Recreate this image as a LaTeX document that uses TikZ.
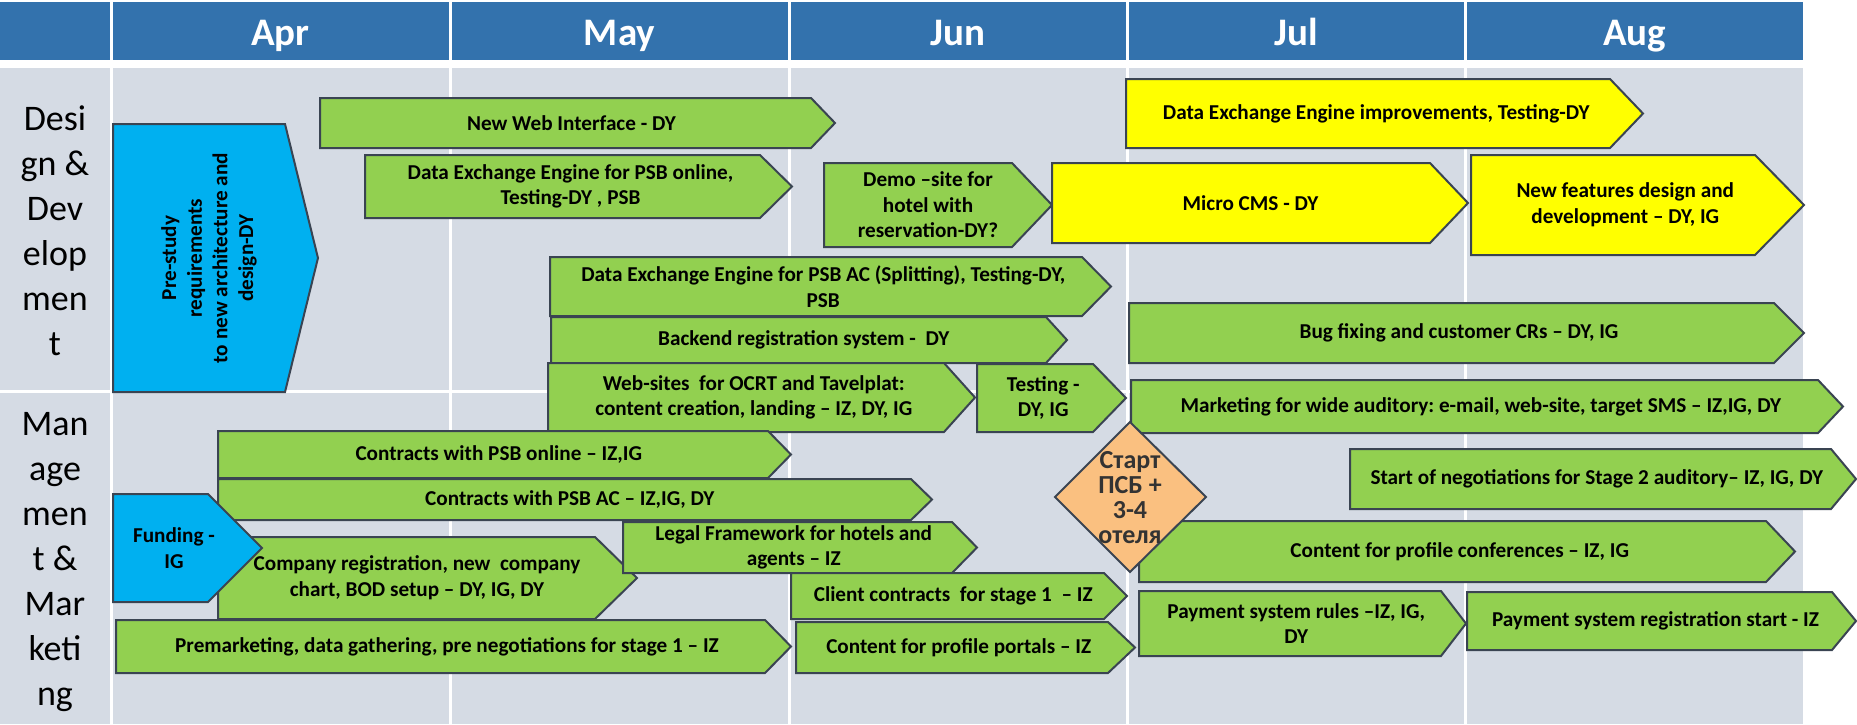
\documentclass[tikz,border=0pt]{standalone}
\usepackage{fontspec}
\setmainfont{Carlito}
\frenchspacing
\usetikzlibrary{positioning}

\definecolor{hdrblue}{HTML}{3372AD}
\definecolor{cellgray}{HTML}{D5DBE4}
\definecolor{taskgreen}{HTML}{92D050}
\definecolor{taskyellow}{HTML}{FFFF00}
\definecolor{taskcyan}{HTML}{00B0F0}
\definecolor{mileorange}{HTML}{FAC080}
\definecolor{edgeslate}{HTML}{3A4452}

\tikzset{
  chev/.style={draw=edgeslate, line width=1pt, line join=miter},
  chevtext/.style={font=\bfseries\fontsize{10.6}{12.8}\selectfont, align=center, inner sep=0pt},
  miletext/.style={font=\bfseries\fontsize{13}{12.5}\selectfont, align=center, inner sep=0pt, text=black!80},
  rowlabel/.style={font=\fontsize{18}{22.5}\selectfont, align=center, inner sep=0pt},
  month/.style={font=\bfseries\fontsize{19.5}{20}\selectfont, text=white, anchor=base},
}

% [fill]{name}{left}{top}{body right}{tip}{bottom}{text}
\newcommand{\chevbox}[8][taskgreen]{%
  \draw[chev, fill=#1] (#3,#4) -- (#5,#4) -- (#6,{(#4+#7)/2}) -- (#5,#7) -- (#3,#7) -- cycle;
  \node[chevtext] (#2) at ({(2*#3+#5+#6)/4},{(#4+#7)/2}) {#8};
}

\begin{document}
\begin{tikzpicture}[x=0.5pt, y=-0.5pt]
    \useasboundingbox (0,0) rectangle (1857,724);
    \fill[white] (0,0) rectangle (1857,724);
    \fill[hdrblue] (0,2) rectangle (109.5,60);
    \fill[cellgray] (0,68) rectangle (109.5,390);
    \fill[cellgray] (0,393) rectangle (109.5,724);
    \foreach \l/\r/\m in {112.5/448.5/Apr, 451.5/787.5/May, 790.5/1125.5/Jun,
                          1128.5/1463.5/Jul, 1466.5/1803/Aug} {
      \fill[hdrblue] (\l,2) rectangle (\r,60);
      \fill[cellgray] (\l,68) rectangle (\r,390);
      \fill[cellgray] (\l,393) rectangle (\r,724);
      \node[month] (\m) at ({(\l+\r)/2},45) {\m};
    }
    \node[rowlabel] (design) at (55,231) {Desi\\gn \&\\Dev\\elop\\men\\t};
    \node[rowlabel] (mgmt) at (55,562) {Man\\age\\men\\t \&\\Mar\\keti\\ng};

    \draw[chev, fill=taskcyan] (113,124) -- (285,124) -- (318,258) -- (285,392) -- (113,392) -- cycle;
    \node[chevtext, rotate=90] (prestudy) at (209,258)
      {Pre-study\\requirements\\to new architecture and\\design-DY};
    \chevbox{webui}{320}{98}{811}{835}{148}{New Web Interface - DY}
    \chevbox{dxonline}{365}{155}{760}{792}{218}{Data Exchange Engine for PSB online,\\Testing-DY , PSB}
    \chevbox{demosite}{824}{163}{1012}{1052}{247}{Demo –site for\\hotel with\\reservation-DY?}
    \chevbox[taskyellow]{microcms}{1052}{163}{1430}{1468}{243}{Micro CMS - DY}
    \chevbox[taskyellow]{dximprove}{1126}{79}{1610}{1643}{148}{Data Exchange Engine improvements, Testing-DY}
    \chevbox[taskyellow]{newfeat}{1471}{155}{1755}{1804}{255}{New features design and\\development – DY, IG}
    \chevbox{dxac}{550}{257}{1082}{1111}{316}{Data Exchange Engine for PSB AC (Splitting), Testing-DY,\\PSB}
    \chevbox{backend}{551}{317}{1046}{1067}{363}{Backend registration system -\ \ DY}
    \chevbox{bugfix}{1129}{303}{1774}{1804}{363}{Bug fixing and customer CRs – DY, IG}
    \chevbox{websites}{548}{363}{944}{975}{432}{Web-sites\ \ for OCRT and Tavelplat:\\content creation, landing – IZ, DY, IG}
    \chevbox{testing}{977}{364}{1093}{1126}{432}{Testing -\\DY, IG}

    \chevbox{marketing}{1131}{380}{1818}{1843}{433}{Marketing for wide auditory: e-mail, web-site, target SMS – IZ,IG, DY}
    \chevbox{nego}{1350}{449}{1831}{1856}{509}{Start of negotiations for Stage 2 auditory– IZ, IG, DY}
    \chevbox{conf}{1139}{521}{1766}{1795}{582}{Content for profile conferences – IZ, IG}
    \chevbox{payrules}{1139}{591}{1441}{1466}{656}{Payment system rules –IZ, IG,\\DY}
    \chevbox{payreg}{1467}{592}{1832}{1856}{650}{Payment system registration start - IZ}
    \draw[chev, fill=mileorange] (1130,422) -- (1206,497) -- (1130,572) -- (1055,497) -- cycle;
    \node[miletext] (start) at (1130,498) {Старт\\ПСБ +\\3-4\\отеля};
    \chevbox{pbsonline}{218}{431}{768}{791}{478}{Contracts with PSB online – IZ,IG}
    \chevbox{pbsac}{218}{479}{911}{932}{520}{Contracts with PSB AC – IZ,IG, DY}
    \chevbox{companyreg}{218}{537}{595}{637}{619}{Company registration, new\ \ company\\chart, BOD setup – DY, IG, DY}
    \chevbox[taskcyan]{funding}{113}{494}{208}{262}{602}{Funding -\\IG}
    \chevbox{legal}{623}{522}{952}{977}{573}{Legal Framework for hotels and\\agents – IZ}
    \chevbox{client}{791}{573}{1104}{1127}{619}{Client contracts\ \ for stage 1\ \ – IZ}
    \chevbox{portals}{796}{622}{1108}{1135}{673}{Content for profile portals – IZ}
    \chevbox{premarketing}{116}{620}{765}{791}{673}{Premarketing, data gathering, pre negotiations for stage 1 – IZ}
\end{tikzpicture}
\end{document}
